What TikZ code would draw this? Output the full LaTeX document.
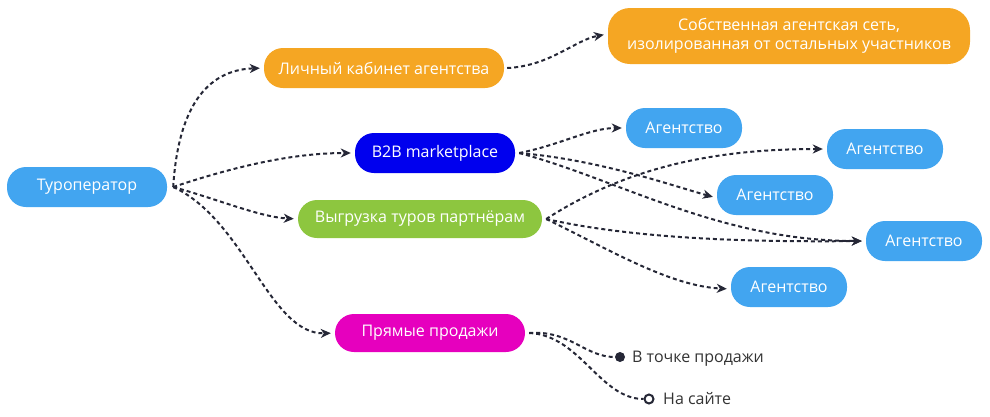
\documentclass[tikz,border=0pt]{standalone}
\usepackage{fontspec}
\setmainfont{Open Sans}
\usetikzlibrary{arrows.meta}
\definecolor{cblue}{HTML}{42A5F0}
\definecolor{corange}{HTML}{F5A623}
\definecolor{cdeep}{HTML}{0000EE}
\definecolor{cgreen}{HTML}{8DC63F}
\definecolor{cmag}{HTML}{E600BE}
\definecolor{cline}{HTML}{252736}
\definecolor{ctext}{HTML}{333333}
\tikzset{
  pill/.style={rounded corners=19pt, minimum height=40pt, inner sep=0pt, text=white,
    font=\fontsize{16}{19}\selectfont, align=center},
  conn/.style={draw=cline, line width=2pt, dash pattern=on 4pt off 3pt,
    -{Stealth[length=10pt,width=9pt,inset=3pt]}, shorten >=4pt},
  connp/.style={draw=cline, line width=2pt, dash pattern=on 4pt off 3pt},
  lbl/.style={text=ctext, font=\fontsize{16}{19}\selectfont, anchor=base west, inner sep=0pt},
}
\begin{document}
\begin{tikzpicture}[x=1pt,y=-1pt]
\useasboundingbox (0,0) rectangle (990,416);
\node[pill, fill=cblue, minimum width=160pt] (tour) at (87,187) {Туроператор};
\node[pill, fill=corange, minimum width=240pt] (lk) at (384,68) {Личный кабинет агентства};
\node[pill, fill=corange, minimum width=362pt, minimum height=56pt, rounded corners=22pt] (sob) at (789,36) {Собственная агентская сеть,\\изолированная от остальных участников};
\node[pill, fill=cdeep, minimum width=160pt] (b2b) at (435,153) {B2B marketplace};
\node[pill, fill=cgreen, minimum width=244pt, minimum height=38pt] (vyg) at (420,219) {Выгрузка туров партнёрам};
\node[pill, fill=cmag, minimum width=190pt, minimum height=38pt] (pr) at (430,333) {Прямые продажи};
\node[pill, fill=cblue, minimum width=116pt] (ag1) at (684,128) {Агентство};
\node[pill, fill=cblue, minimum width=116pt] (ag2) at (885,149) {Агентство};
\node[pill, fill=cblue, minimum width=116pt] (ag3) at (775,195) {Агентство};
\node[pill, fill=cblue, minimum width=116pt] (ag4) at (924,241) {Агентство};
\node[pill, fill=cblue, minimum width=116pt] (ag5) at (789,287) {Агентство};
\node[circle, fill=cline, inner sep=0pt, minimum size=10pt] (d1) at (620,357) {};
\node[circle, draw=cline, line width=2pt, fill=white, inner sep=0pt, minimum size=9pt] (d2) at (649,399) {};
\node[lbl] (t1) at (632,362.5) {В точке продажи};
\node[lbl] (t2) at (663,404.5) {На сайте};
\coordinate (ts) at ([xshift=6pt]tour.east);
\coordinate (bs) at ([xshift=4pt]b2b.east);
\coordinate (vs) at ([xshift=4pt]vyg.east);
\coordinate (ps) at ([xshift=4pt]pr.east);
\coordinate (ls) at ([xshift=3pt]lk.east);
\draw[conn] (ts) .. controls (178,110) and (205,70) .. (lk.west);
\draw[conn] (ts) .. controls (230,168) and (290,153) .. (b2b.west);
\draw[conn] (ts) .. controls (220,200) and (260,217) .. (vyg.west);
\draw[conn] (ts) .. controls (245,220) and (270,335) .. (pr.west);
\draw[conn] (ls) .. controls (550,66) and (575,40) .. ([yshift=2pt]sob.west);
\draw[conn] (bs) .. controls (560,145) and (590,128) .. (ag1.west);
\draw[conn] (bs) .. controls (600,160) and (670,185) .. ([yshift=-3pt]ag3.west);
\draw[conn] (bs) .. controls (620,180) and (720,241) .. (ag4.west);
\draw[conn] (vs) .. controls (630,165) and (720,149) .. (ag2.west);
\draw[conn] (vs) .. controls (640,240) and (760,242) .. (ag4.west);
\draw[conn] (vs) .. controls (610,250) and (670,286) .. ([yshift=-2pt]ag5.west);
\draw[connp] (ps) .. controls (570,330) and (585,357) .. (d1.west);
\draw[connp] (ps) .. controls (580,335) and (600,399) .. (d2.west);
\end{tikzpicture}
\end{document}
